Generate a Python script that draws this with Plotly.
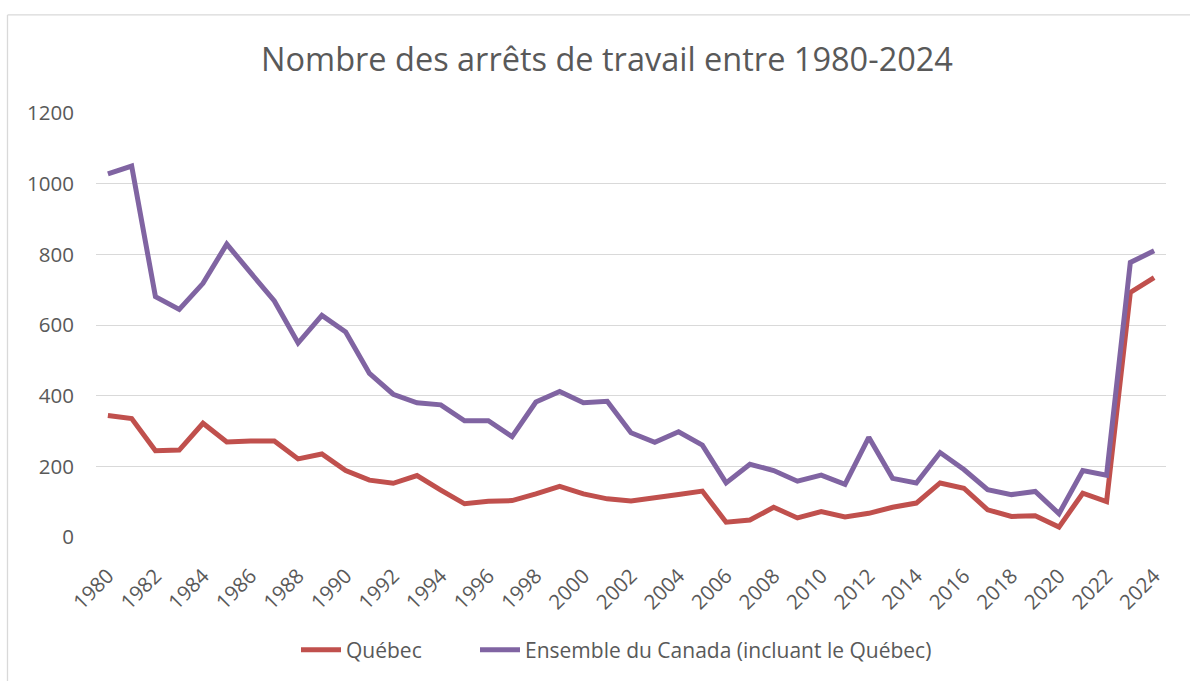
import plotly.graph_objects as go

years = list(range(1980, 2025))
quebec = [344, 335, 244, 246, 322, 269, 272, 272, 221, 235,
          188, 161, 152, 174, 133, 94, 101, 103, 122, 143,
          122, 108, 102, 110, 120, 130, 42, 48, 84, 54,
          72, 57, 67, 84, 96, 153, 138, 77, 58, 60,
          28, 124, 100, 692, 734]
canada = [1028, 1050, 680, 644, 718, 829, 748, 668, 549, 627,
          580, 463, 404, 380, 374, 329, 329, 284, 382, 412,
          380, 384, 295, 268, 298, 260, 153, 206, 188, 158,
          175, 149, 282, 166, 153, 239, 191, 134, 120, 129,
          66, 188, 175, 777, 810]
tick_years = list(range(1980, 2025, 2))
y_ticks = [0, 200, 400, 600, 800, 1000, 1200]

FONT = "Open Sans"
TXT = "#595959"
GRID = "#D9D9D9"

fig = go.Figure()
fig.add_trace(go.Scatter(x=years, y=quebec, mode="lines", name="Québec",
                         line=dict(color="#C0504D", width=5), legend="legend"))
fig.add_trace(go.Scatter(x=years, y=canada, mode="lines",
                         name="Ensemble du Canada (incluant le Québec)",
                         line=dict(color="#8064A2", width=5), legend="legend2"))

L, R, T, B = 96, 24, 113, 143
W, H = 1190, 681
pw, ph = W - L - R, H - T - B

def px(x):
    return (x - L) / pw

def py(y):
    return (H - B - y) / ph

leg_common = dict(orientation="h", xanchor="left", yanchor="middle",
                  y=py(650), font=dict(size=21, color=TXT), itemwidth=40,
                  bgcolor="rgba(0,0,0,0)")

fig.update_layout(
    width=W, height=H,
    margin=dict(l=L, r=R, t=T, b=B),
    paper_bgcolor="white", plot_bgcolor="white",
    font=dict(family=FONT, color=TXT, size=20),
    title=dict(text="Nombre des arrêts de travail entre 1980-2024",
               x=607 / W, xanchor="center", xref="container",
               y=1 - 60 / H, yanchor="middle", yref="container",
               font=dict(size=32.5, color=TXT, family=FONT)),
    xaxis=dict(range=[1979.5, 2024.5], tickvals=tick_years,
               ticktext=[str(v) for v in tick_years], tickangle=-45,
               showgrid=False, zeroline=False, showline=False, ticks="",
               tickfont=dict(size=20.5, color=TXT), ticklabelstandoff=22),
    yaxis=dict(range=[0, 1200], tickvals=y_ticks, showgrid=True,
               gridcolor=GRID, gridwidth=1.3, zeroline=False, showline=False,
               ticks="", tickfont=dict(size=20.5, color=TXT), ticklabelstandoff=21),
    legend=dict(x=px(296), **leg_common),
    legend2=dict(x=px(475), **leg_common),
    showlegend=True,
    shapes=[
        dict(type="line", xref="paper", yref="paper",
             x0=px(7.5), x1=px(1200), y0=py(14.7), y1=py(14.7),
             line=dict(color=GRID, width=1.3)),
        dict(type="line", xref="paper", yref="paper",
             x0=px(7.5), x1=px(7.5), y0=py(14.7), y1=py(700),
             line=dict(color=GRID, width=1.3)),
    ],
)

fig.write_html("out.html", config={"displayModeBar": False},
               post_script="document.body.style.margin='0';document.body.style.overflow='hidden';")
